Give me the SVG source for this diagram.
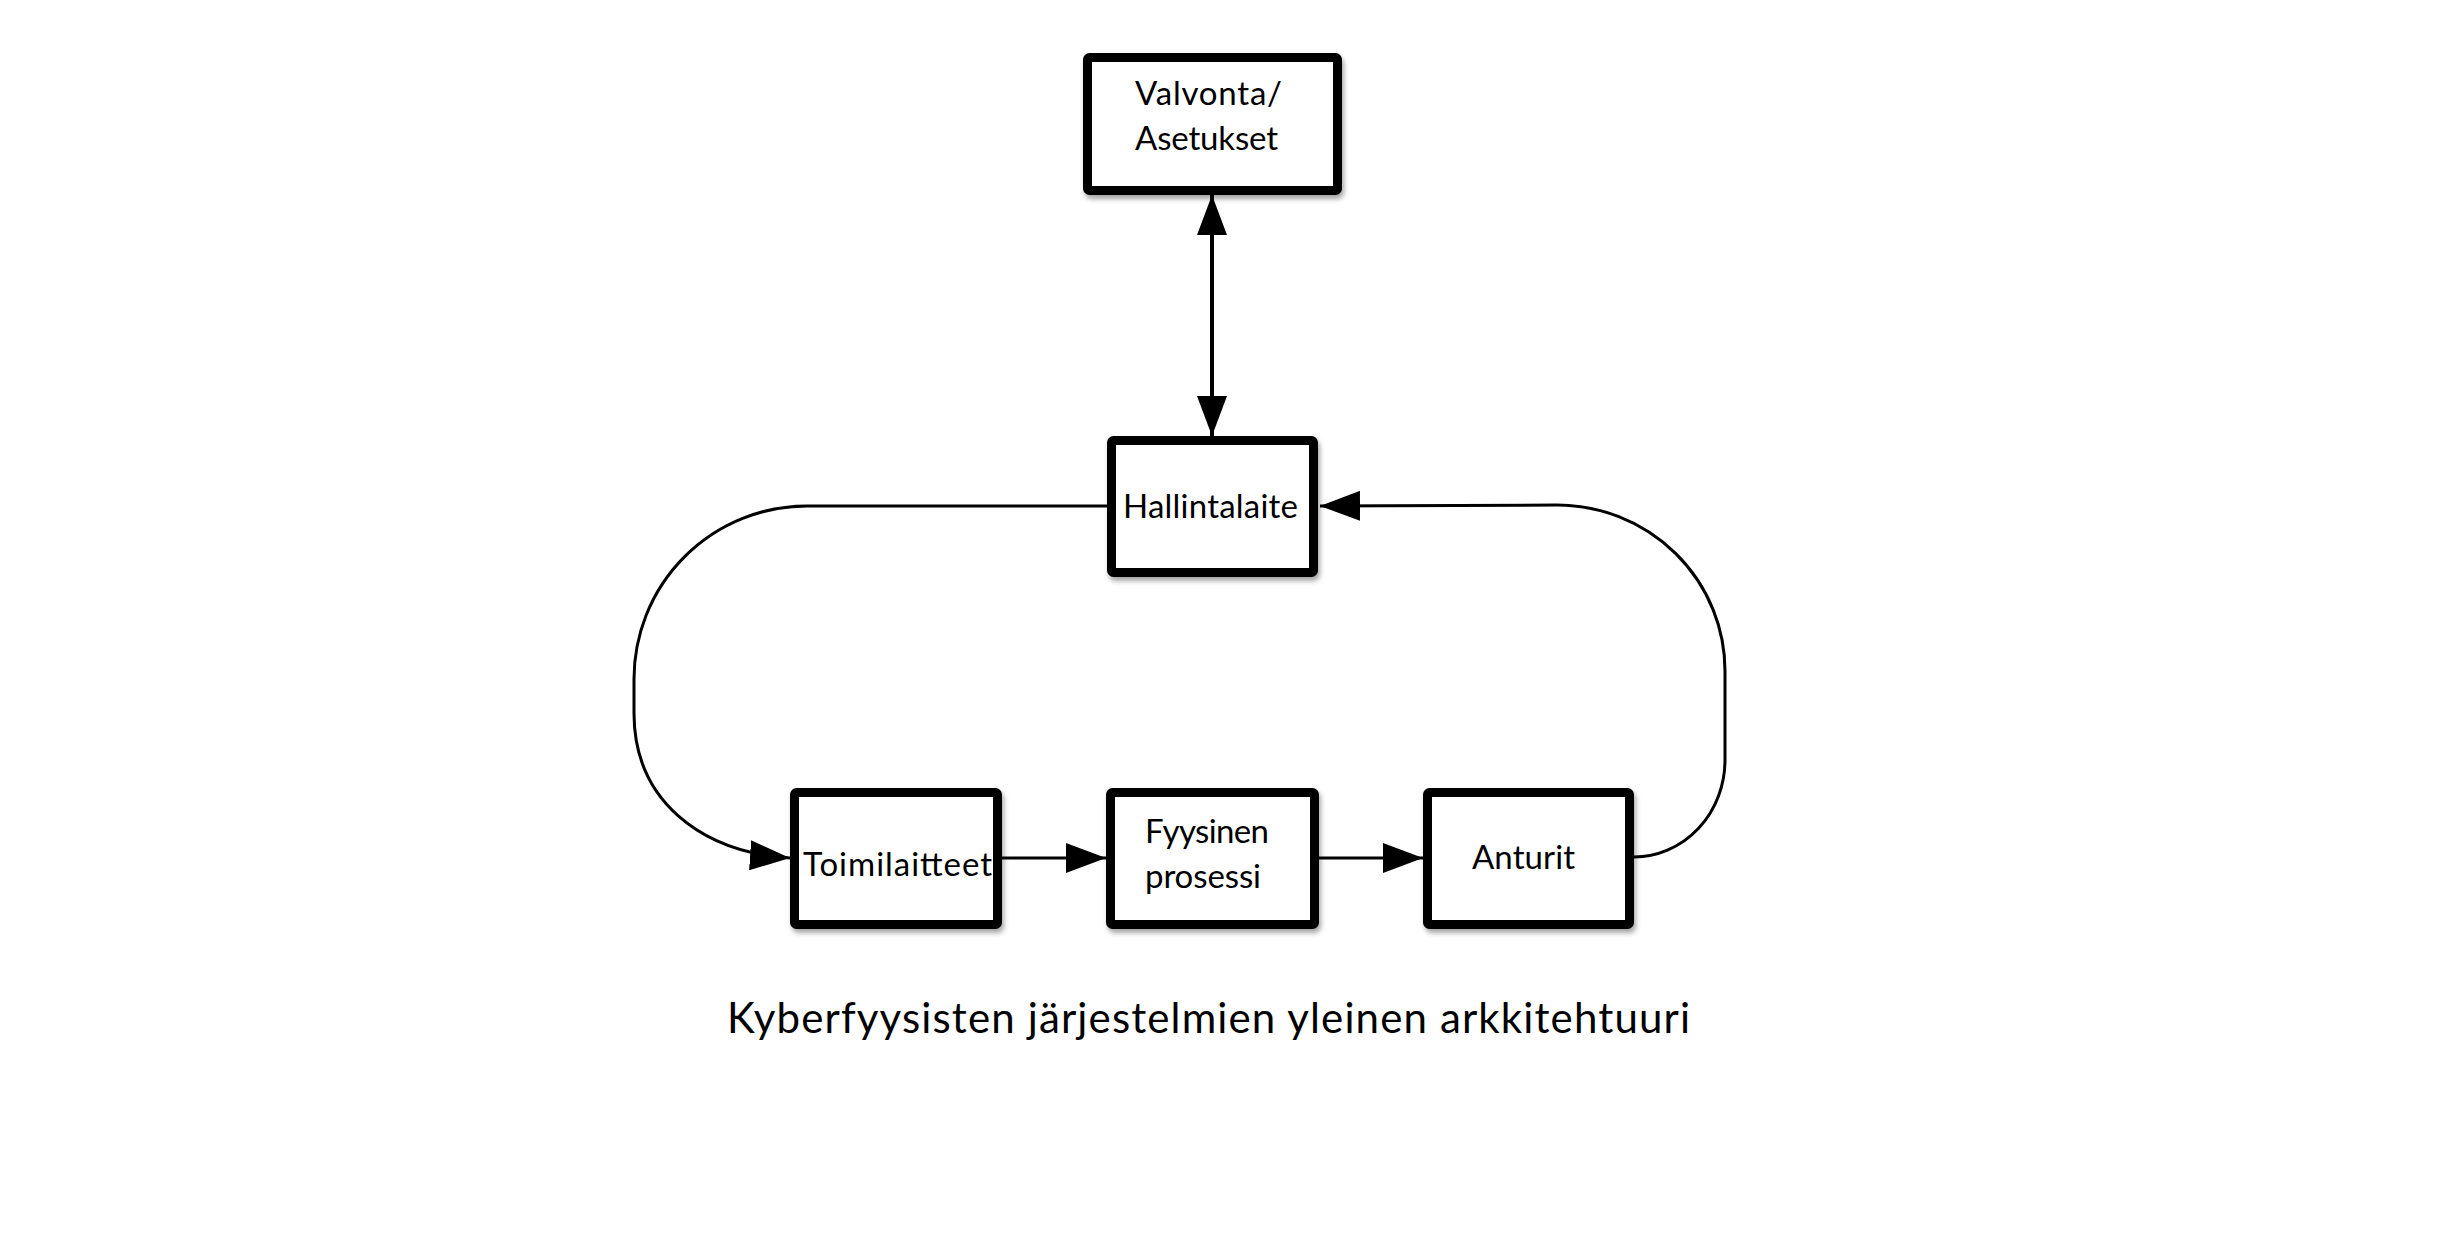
<svg xmlns="http://www.w3.org/2000/svg" width="2460" height="1257" viewBox="0 0 2460 1257">
  <style>
    .box { fill: #ffffff; stroke: #000000; stroke-width: 9; filter: url(#shadow); }
    .lbl { font-family: Lato, "Open Sans", "Liberation Sans", sans-serif; font-size: 33px; fill: #000000; }
    .cap { font-family: Lato, "Open Sans", "Liberation Sans", sans-serif; font-size: 42px; fill: #000000; }
    .conn { fill: none; stroke: #000000; stroke-width: 3; }
  </style>
  <defs>
    <filter id="shadow" x="-10%" y="-10%" width="125%" height="130%">
      <feDropShadow dx="2" dy="4" stdDeviation="2.5" flood-color="#000000" flood-opacity="0.35"/>
    </filter>
    <marker id="arrow" markerUnits="userSpaceOnUse" markerWidth="40" markerHeight="30" refX="40" refY="15" orient="auto-start-reverse" viewBox="0 0 40 30">
      <path d="M0,0 L40,15 L0,30 Z" fill="#000000"/>
    </marker>
  </defs>
  <rect width="2460" height="1257" fill="#ffffff"/>

  <g id="connectors">
    <path class="conn" style="stroke-width:4" d="M1212,195 L1212,436" marker-start="url(#arrow)" marker-end="url(#arrow)"/>
    <path class="conn" d="M1107,506 L807,506 A173 173 0 0 0 634,679 L634,713 C634,800 700,852 790,858" marker-end="url(#arrow)"/>
    <path class="conn" d="M1001,858 L1106,858" marker-end="url(#arrow)"/>
    <path class="conn" d="M1318,858 L1423,858" marker-end="url(#arrow)"/>
    <path class="conn" d="M1634,857 A91 97 0 0 0 1725,760 L1725,671 A168 166 0 0 0 1557,505 L1320,506" marker-end="url(#arrow)"/>
  </g>

  <g id="valvonta">
    <rect class="box" x="1087.5" y="57.5" width="250" height="133" rx="2"/>
    <text class="lbl" x="1135" y="105" textLength="147" lengthAdjust="spacing">Valvonta/</text>
    <text class="lbl" x="1135" y="150" textLength="143" lengthAdjust="spacing">Asetukset</text>
  </g>

  <g id="hallintalaite">
    <rect class="box" x="1111.5" y="440.5" width="202" height="132" rx="2"/>
    <text class="lbl" x="1123" y="518" textLength="175" lengthAdjust="spacing">Hallintalaite</text>
  </g>

  <g id="toimilaitteet">
    <rect class="box" x="794.5" y="792.5" width="203" height="132" rx="2"/>
    <text class="lbl" x="803" y="876" textLength="189" lengthAdjust="spacing">Toimilaitteet</text>
  </g>

  <g id="fyysinen">
    <rect class="box" x="1110.5" y="792.5" width="204" height="132" rx="2"/>
    <text class="lbl" x="1145" y="843" textLength="124" lengthAdjust="spacing">Fyysinen</text>
    <text class="lbl" x="1145" y="888" textLength="116" lengthAdjust="spacing">prosessi</text>
  </g>

  <g id="anturit">
    <rect class="box" x="1427.5" y="792.5" width="202" height="132" rx="2"/>
    <text class="lbl" x="1472" y="869" textLength="103" lengthAdjust="spacing">Anturit</text>
  </g>

  <g id="caption">
    <text class="cap" x="727" y="1033" textLength="963" lengthAdjust="spacing">Kyberfyysisten järjestelmien yleinen arkkitehtuuri</text>
  </g>
</svg>
